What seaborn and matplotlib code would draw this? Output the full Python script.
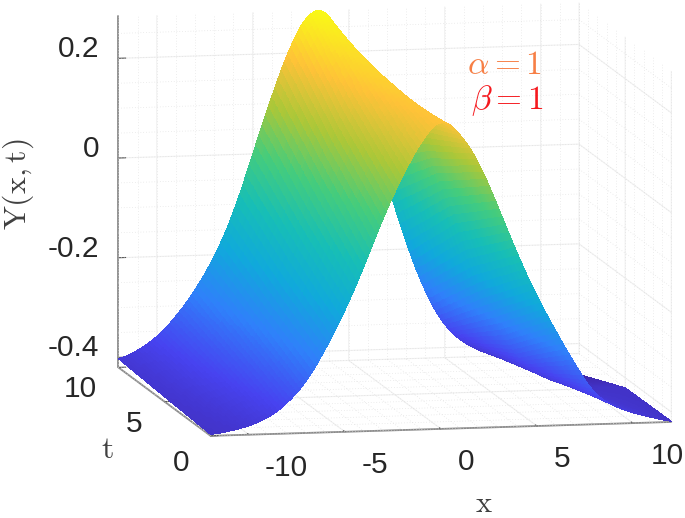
"""Surface Y(x,t) with a parula-like colour map, seen from the front left."""

import numpy as np
import matplotlib
matplotlib.use("Agg")
import matplotlib.pyplot as plt
import seaborn as sns
from mpl_toolkits.mplot3d import proj3d

# values, one row per t
x_vals = [-12, -11, -10, -9, -8, -7, -6, -5, -4, -3, -2, -1, 0,
          1, 2, 3, 4, 5, 6, 7, 8, 9, 10, 11, 12]
t_vals = [0, 5, 10]
y_t0 = [-0.418, -0.412, -0.403, -0.388, -0.36, -0.318, -0.253, -0.178, -0.09, 0.008, 0.09,
        0.16, 0.205, 0.172, 0.112, 0.02, -0.076, -0.16, -0.232, -0.30, -0.36,
        -0.385, -0.40, -0.41, -0.42]
y_t5 = [-0.412, -0.40, -0.38, -0.355, -0.315, -0.265, -0.19, -0.095, 0.01, 0.105, 0.18,
        0.225, 0.205, 0.125, 0.04, -0.06, -0.17, -0.26, -0.33, -0.375, -0.40,
        -0.41, -0.42, -0.42, -0.42]
y_t10 = [-0.405, -0.388, -0.362, -0.322, -0.27, -0.205, -0.118, 0.0, 0.117, 0.22, 0.287,
         0.282, 0.19, 0.06, -0.065, -0.19, -0.29, -0.358, -0.392, -0.412, -0.424,
         -0.434, -0.452, -0.462, -0.462]

x_ticks = [-10, -5, 0, 5, 10]
t_ticks = [0, 5, 10]
y_ticks = [-0.4, -0.2, 0, 0.2]
x_labels = ["-10", "-5", "0", "5", "10"]
t_labels = ["0", "5", "10"]
y_labels = ["-0.4", "-0.2", "0", "0.2"]
parula = ["#3e26a8", "#4743f0", "#2f80fa", "#10a9db", "#17beb6",
          "#45cc7c", "#abc738", "#fec238", "#f9fb15"]

X_LIM = (-12, 12)
T_LIM = (0, 10)
Y_LIM = (-0.42, 0.284)
TICK_FONT = "Liberation Sans"
TICK_COLOR = "#262626"
# MATLAB leaves its tick labels unevenly off the ticks (pixels)
X_LABEL_DX = [37, 30, 25, 25, 34]
T_LABEL_OFF = [(-30, -27), (-30, -22), (-38, -22)]


def refined_mesh(x, t, rows, per_x=6, per_t=30):
    """Split the facets so the colour can run smoothly across them, as
    interpolated shading does. The surface itself stays the table's, only
    the corners between table points get rounded."""
    x, t, rows = np.asarray(x, float), np.asarray(t, float), np.asarray(rows)
    xf = np.linspace(x[0], x[-1], (len(x) - 1) * per_x + 1)
    tf = np.linspace(t[0], t[-1], (len(t) - 1) * per_t + 1)
    by_x = np.array([np.interp(xf, x, r) for r in rows])
    kernel = np.ones(per_x + 1) / (per_x + 1)
    pad = per_x // 2
    by_x = np.array([np.convolve(np.pad(r, pad, mode="edge"), kernel, mode="valid") for r in by_x])
    fine = np.array([np.interp(tf, t, col) for col in by_x.T]).T
    xx, tt = np.meshgrid(xf, tf)
    return xx, tt, fine


sns.set_theme(style="white", rc={"axes.grid": False})
plt.rcParams["mathtext.fontset"] = "cm"

W, H = 685, 518
SIDE = 800
fig = plt.figure(figsize=(W / 100, H / 100), dpi=100, facecolor="white")
ax = fig.add_axes([(384 - SIDE / 2) / W, (288 - SIDE / 2) / H, SIDE / W, SIDE / H],
                  projection="3d", proj_type="ortho", computed_zorder=False)
ax.patch.set_alpha(0)
ax.view_init(elev=8.6, azim=-101.4)
ax.set_box_aspect((470, 467, 355), zoom=0.912)

ax.set_xlim(*X_LIM)
ax.set_ylim(*T_LIM)
ax.set_zlim(*Y_LIM)
ax.set_xticks(x_ticks)
ax.set_yticks(t_ticks)
ax.set_zticks(y_ticks)
ax.set_xticklabels([""] * len(x_ticks))
ax.set_yticklabels([""] * len(t_ticks))
ax.set_zticklabels([""] * len(y_ticks))

for axis in (ax.xaxis, ax.yaxis, ax.zaxis):
    axis.set_pane_color((1, 1, 1, 0))
    axis.pane.set_edgecolor("#f1f1f1")
    axis.line.set_color("#8a8a8a")
    axis.line.set_linewidth(1.3)
    axis._axinfo["grid"].update(color="#f1f1f1", linewidth=0.8)
    axis._axinfo["tick"].update(inward_factor=0.0, outward_factor=0.2,
                                linewidth={True: 0.8, False: 0.5}, color="#555555")
ax.tick_params(colors="#555555")

# dotted minor grid on the three walls
dots = dict(color="#dcdcdc", lw=0.5, ls=(0, (1, 3)), zorder=0)
for xm in np.arange(-12, 13, 1):
    ax.plot([xm, xm], [10, 10], Y_LIM, **dots)
    ax.plot([xm, xm], T_LIM, [Y_LIM[0]] * 2, **dots)
for tm in np.arange(0, 11, 1):
    ax.plot([12, 12], [tm, tm], Y_LIM, **dots)
    ax.plot(X_LIM, [tm, tm], [Y_LIM[0]] * 2, **dots)
for zm in np.arange(-0.4, 0.29, 0.05):
    ax.plot(X_LIM, [10, 10], [zm, zm], **dots)
    ax.plot([12, 12], T_LIM, [zm, zm], **dots)

rows = np.array([y_t0, y_t5, y_t10])
xx, tt, yy = refined_mesh(x_vals, t_vals, rows)
cmap = sns.blend_palette(parula, as_cmap=True)
ax.plot_surface(xx, tt, yy, rstride=1, cstride=1, cmap=cmap, vmin=rows.min(), vmax=rows.max(),
                linewidth=0, antialiased=False, shade=False, zorder=2)


def tick_text(x, t, z, label, dx, dy, ha="center"):
    px, py, _ = proj3d.proj_transform(x, t, z, ax.get_proj())
    ax.annotate(label, xy=(px, py), xycoords="data", xytext=(dx * 0.72, dy * 0.72),
                textcoords="offset points", ha=ha, va="center", fontsize=21.5,
                family=TICK_FONT, color=TICK_COLOR, annotation_clip=False)


ax.apply_aspect()
for v, s, dx in zip(x_ticks, x_labels, X_LABEL_DX):
    tick_text(v, T_LIM[0], Y_LIM[0], s, dx, -33)
for v, s, off in zip(t_ticks, t_labels, T_LABEL_OFF):
    tick_text(X_LIM[0], v, Y_LIM[0], s, off[0], off[1])
for v, s in zip(y_ticks, y_labels):
    tick_text(X_LIM[0], T_LIM[1], v, s, -19, 9, ha="right")

fig.text(484 / W, 1 - 504 / H, r"$\mathrm{x}$", fontsize=22, color="#404040", ha="center", va="center")
fig.text(107 / W, 1 - 450 / H, r"$\mathrm{t}$", fontsize=23, color="#404040", ha="center", va="center")
fig.text(18 / W, 1 - 184 / H, r"$\mathrm{Y(x,t)}$", fontsize=23, color="#404040",
         rotation=90, ha="center", va="center")
fig.text(505 / W, 1 - 65 / H, r"$\alpha=1$", fontsize=24, color="#f77f45", ha="center", va="center")
fig.text(507 / W, 1 - 101 / H, r"$\beta=1$", fontsize=24, color="#f5191e", ha="center", va="center")

fig.savefig("out.png", dpi=100)
